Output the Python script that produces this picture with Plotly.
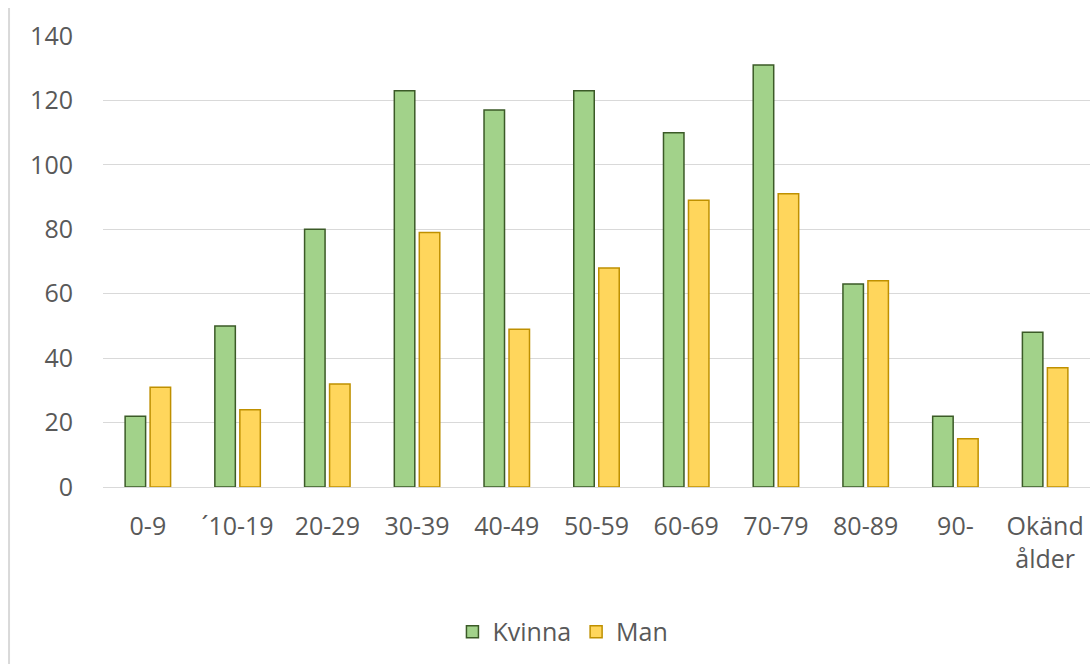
import plotly.graph_objects as go

categories = ["0-9", "´10-19", "20-29", "30-39", "40-49", "50-59", "60-69",
              "70-79", "80-89", "90-", "Okänd<br>ålder"]
kvinna = [22, 50, 80, 123, 117, 123, 110, 131, 63, 22, 48]
man = [31, 24, 32, 79, 49, 68, 89, 91, 64, 15, 37]
y_ticks = [0, 20, 40, 60, 80, 100, 120, 140]

FONT = "Open Sans"
TXT = "#595959"

fig = go.Figure()
fig.add_trace(go.Bar(
    name="Kvinna", x=categories, y=kvinna,
    marker=dict(color="#A2D28A", line=dict(color="#3B5A27", width=1.5)),
))
fig.add_trace(go.Bar(
    name="Man", x=categories, y=man,
    marker=dict(color="#FFD65C", line=dict(color="#BF9000", width=1.5)),
))

fig.update_layout(
    width=1090, height=664,
    margin=dict(l=103, r=0, t=36, b=177),
    paper_bgcolor="white", plot_bgcolor="white",
    barmode="group", bargap=0.443, bargroupgap=0.18,
    font=dict(family=FONT, size=25, color=TXT),
    showlegend=True,
    legend=dict(orientation="h", x=0.466, xanchor="center", y=-0.3215,
                yanchor="middle", font=dict(family=FONT, size=25, color=TXT),
                bgcolor="rgba(0,0,0,0)"),
    xaxis=dict(showgrid=False, showline=False, zeroline=False,
               tickfont=dict(family=FONT, size=25, color=TXT),
               ticklabelstandoff=22),
    yaxis=dict(range=[0, 140], tickvals=y_ticks, showgrid=True,
               gridcolor="#D9D9D9", gridwidth=1.3, zeroline=True,
               zerolinecolor="#D9D9D9", zerolinewidth=1.3, showline=False,
               tickfont=dict(family=FONT, size=25, color=TXT),
               ticklabelstandoff=29),
    shapes=[dict(type="line", xref="paper", yref="paper",
                 x0=-0.0952, x1=-0.0952, y0=1.062, y1=-0.40,
                 line=dict(color="#D9D9D9", width=2))],
)

fig.write_html("out.html")
